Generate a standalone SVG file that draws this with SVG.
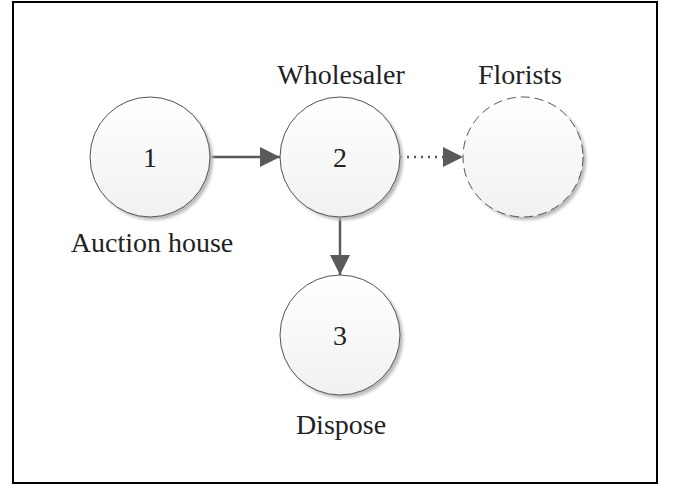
<svg xmlns="http://www.w3.org/2000/svg" width="674" height="485" viewBox="0 0 674 485">
<style>
.node{stroke:#555;stroke-width:1;fill:url(#g)}
.dash{stroke-dasharray:9,5}
.sh{fill:#bbb;filter:url(#b)}
.lbl{font-family:"Liberation Serif","Times New Roman",serif;font-size:28px;fill:#222;text-anchor:middle}
.num{font-family:"Liberation Serif","Times New Roman",serif;font-size:28px;fill:#222;text-anchor:middle}
.con{stroke:#5a5a5a;stroke-width:2.5;fill:none}
</style>
<defs>
<linearGradient id="g" x1="0" y1="0" x2="0" y2="1">
<stop offset="0" stop-color="#ffffff"/>
<stop offset="1" stop-color="#f1f1f1"/>
</linearGradient>
<filter id="b" x="-20%" y="-20%" width="140%" height="140%"><feGaussianBlur stdDeviation="1.5"/></filter>
<marker id="ah" viewBox="0 0 20 20" refX="20" refY="10" markerWidth="20" markerHeight="20" markerUnits="userSpaceOnUse" orient="auto">
<path d="M0,0 L20,10 L0,20 Z" fill="#5a5a5a"/>
</marker>
</defs>
<rect x="13" y="2" width="644" height="481" fill="#fff" stroke="#000" stroke-width="2"/>
<g id="connectors">
<line class="con" x1="210" y1="157" x2="280" y2="157" marker-end="url(#ah)"/>
<line class="con" x1="400" y1="157" x2="463" y2="157" stroke-dasharray="2,5" marker-end="url(#ah)"/>
<line class="con" x1="340" y1="217" x2="340" y2="275" marker-end="url(#ah)"/>
</g>
<g id="node1">
<circle class="sh" cx="153" cy="160" r="60"/>
<circle class="node" cx="150" cy="157" r="60"/>
<text class="num" x="150" y="167">1</text>
<text class="lbl" x="152" y="252">Auction house</text>
</g>
<g id="node2">
<circle class="sh" cx="343" cy="160" r="60"/>
<circle class="node" cx="340" cy="157" r="60"/>
<text class="num" x="340" y="167">2</text>
<text class="lbl" x="341" y="84">Wholesaler</text>
</g>
<g id="florists">
<circle class="sh" cx="526" cy="160" r="60"/>
<circle class="node dash" cx="523" cy="157" r="60"/>
<text class="lbl" x="520" y="84">Florists</text>
</g>
<g id="node3">
<circle class="sh" cx="343" cy="338" r="60"/>
<circle class="node" cx="340" cy="335" r="60"/>
<text class="num" x="340" y="345">3</text>
<text class="lbl" x="341" y="434">Dispose</text>
</g>
</svg>
